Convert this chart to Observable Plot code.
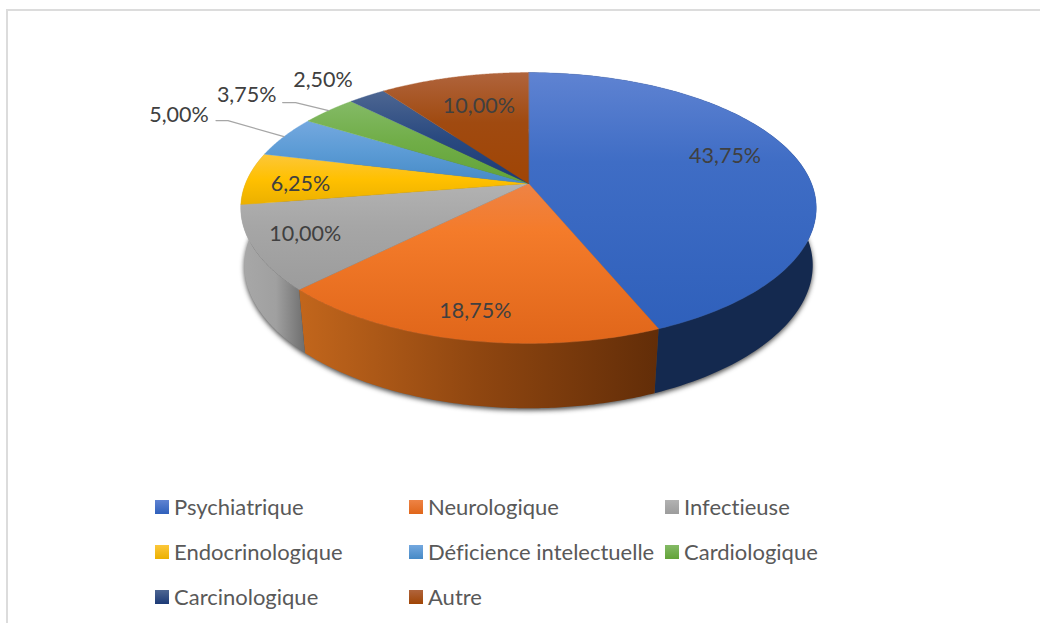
<!DOCTYPE html>
<html lang="fr">
<head>
<meta charset="utf-8">
<script src="https://cdn.jsdelivr.net/npm/d3@7"></script>
<script src="https://cdn.jsdelivr.net/npm/@observablehq/plot@0.6"></script>
<style>
html,body{margin:0;padding:0;background:#fff;width:1040px;height:623px;overflow:hidden;font-family:Lato,"Noto Sans",sans-serif;font-variant-ligatures:none}
#frame{position:absolute;left:6px;top:9px;right:0;bottom:0;border-left:2px solid #dcdcdc;border-top:2px solid #dcdcdc}
#chart{position:absolute;left:0;top:0}
#legend{position:absolute;left:0;top:0}
.item{position:absolute;display:flex;align-items:center;color:#595959;font-size:22px;line-height:24px;white-space:nowrap}
.swatch{width:14px;height:14px;margin-right:5px;flex:none}
</style>
</head>
<body>
<div id="frame"></div>
<div id="chart"></div>
<div id="legend"></div>
<script>
// ---- data ----
const categories = ["Psychiatrique","Neurologique","Infectieuse","Endocrinologique","Déficience intelectuelle","Cardiologique","Carcinologique","Autre"];
const shares = [43.75,18.75,10,6.25,5,3.75,2.5,10];

// ---- styles ----
const topStops = [
  [["0","#5f83d2"],[".35","#3f6dc5"],["1","#2f60bb"]],
  [["0","#ee8345"],[".3","#f47b2a"],["1","#e0661a"]],
  [["0","#b2b2b2"],[".4","#a6a6a6"],["1","#9c9c9c"]],
  [["0","#fcc73a"],[".5","#ffc000"],["1","#ebb000"]],
  [["0","#74a8df"],[".5","#5b9bd5"],["1","#468ac6"]],
  [["0","#84ba66"],[".5","#70ad47"],["1","#62a338"]],
  [["0","#4d6692"],[".5","#2a4a80"],["1","#1c3a76"]],
  [["0","#b0643c"],[".45","#a04a10"],["1","#a04505"]]
];
const wallStops = [
  [["0","#14294f"],["1","#14294f"]],
  [["0","#c2661c"],[".5","#8f4610"],["1","#622d08"]],
  [["0","#a8a8a8"],[".55","#a0a0a0"],["1","#6e6e6e"]]
];
const labelColor = "#404040";
const leaderColor = "#a6a6a6";

// ---- pie geometry: perspective projection of the unit disc ----
const persp = 0.181, pxX = 283, pxY = 131, cx = 528, cy = 183;
const depthShift = 60 / pxY, lowerY = 1.03;
function project(frac, r = 1, lower = false) {
  const t = 2 * Math.PI * frac, u = r * Math.sin(t), v = -r * Math.cos(t), w = 1 - persp * v;
  return lower ? {x: (0.992 - 0.025 * v) * u / w, y: lowerY * v / w + depthShift} : {x: u / w, y: v / w};
}
const cum = d3.cumsum(shares).map(d => d / 100);
const slices = categories.map((name, i) => ({name, i, value: shares[i], a0: i ? cum[i-1] : 0, a1: cum[i], mid: ((i ? cum[i-1] : 0) + cum[i]) / 2}));
const arc = (a0, a1, lower) => d3.range(0, 121).map(k => project(a0 + (a1 - a0) * k / 120, 1, lower));
const topPoly = s => [{x: 0, y: 0}, ...arc(s.a0, s.a1, false)];
const wallPoly = (s, end = s.a1) => [...arc(s.a0, end, false), ...arc(s.a0, end, true).reverse()];

// label placement around each slice's anchor, in pixels
const fmt = v => v.toFixed(2).replace(".", ",") + "%";
const labelPlace = [
  {r: .7, dx: 7, dy: -10}, {r: .7, dx: -9, dy: 25}, {r: .7, dx: -36, dy: 6}, {r: .7, dx: -31, dy: 4},
  {r: 1, dx: -105, dy: -22}, {r: 1, dx: -82, dy: -15}, {r: 1, dx: -44, dy: -15.5}, {r: .7, dx: 5, dy: 0}
];
const leaders = [
  {i: 4, knee: [-56, -16], end: [-68, -16]},
  {i: 5, knee: [-33, -8], end: [-46, -8]}
];

const defs = () => {
  const d = d3.create("svg:defs");
  const add = (id, stops, horizontal) => {
    const g = d.append("linearGradient").attr("id", id).attr("x1", 0).attr("y1", 0)
      .attr("x2", horizontal ? 1 : 0).attr("y2", horizontal ? 0 : 1);
    stops.forEach(([o, c]) => g.append("stop").attr("offset", o).attr("stop-color", c));
  };
  topStops.forEach((s, i) => add("top" + i, s, false));
  wallStops.forEach((s, i) => add("wall" + i, s, true));
  return d.node();
};

const marks = [defs];
// soft shadow under the lower edge
marks.push(Plot.line(arc(0, 1, true), {x: "x", y: "y", fill: "#1a1a1a", curve: "linear-closed", imageFilter: "blur(2.5px)", dy: 2, opacity: 0.8}));
// outer walls: only the three front slices are visible; the grey one wraps to the silhouette
marks.push(Plot.line(wallPoly(slices[0]), {x: "x", y: "y", fill: "url(#wall0)", curve: "linear-closed"}));
marks.push(Plot.line(wallPoly(slices[1]), {x: "x", y: "y", fill: "url(#wall1)", curve: "linear-closed"}));
marks.push(Plot.line(wallPoly(slices[2], slices[3].a1), {x: "x", y: "y", fill: "url(#wall2)", curve: "linear-closed"}));
// top faces
slices.forEach(s => marks.push(Plot.line(topPoly(s), {x: "x", y: "y", fill: `url(#top${s.i})`, stroke: `url(#top${s.i})`, strokeWidth: 0.4, curve: "linear-closed"})));
// leader lines
leaders.forEach(l => {
  const e = project(slices[l.i].mid);
  const off = ([dx, dy]) => ({x: e.x + dx / pxX, y: e.y + dy / pxY});
  marks.push(Plot.line([e, off(l.knee), off(l.end)], {x: "x", y: "y", stroke: leaderColor, strokeWidth: 1.2}));
});
// value labels
slices.forEach(s => {
  const p = labelPlace[s.i], a = project(s.mid, p.r);
  marks.push(Plot.text([{...a, t: fmt(s.value)}], {x: "x", y: "y", text: "t", dx: p.dx, dy: p.dy, fill: labelColor, fontSize: 21.5, textAnchor: "middle", lineAnchor: "middle"}));
});

const chart = Plot.plot({
  width: 1040, height: 623, margin: 0,
  style: {background: "transparent", fontFamily: "Lato, 'Noto Sans', sans-serif"},
  x: {domain: [-1, 1], range: [cx - pxX, cx + pxX], axis: null},
  y: {domain: [-1, 1], range: [cy - pxY, cy + pxY], axis: null},
  marks
});
document.getElementById("chart").append(chart);

// ---- legend ----
const legendCols = [155, 409, 665], legendRows = [495, 540, 585], legendOrder = [0,1,2,3,4,5,6,7];
const legend = document.getElementById("legend");
legendOrder.forEach((idx, k) => {
  const el = document.createElement("div");
  el.className = "item";
  el.style.left = legendCols[k % 3] + "px";
  el.style.top = legendRows[Math.floor(k / 3)] + "px";
  const sw = document.createElement("span");
  sw.className = "swatch";
  sw.style.background = `linear-gradient(${topStops[idx][0][1]},${topStops[idx][2][1]})`;
  el.append(sw, document.createTextNode(categories[idx]));
  legend.append(el);
});
</script>
</body>
</html>
